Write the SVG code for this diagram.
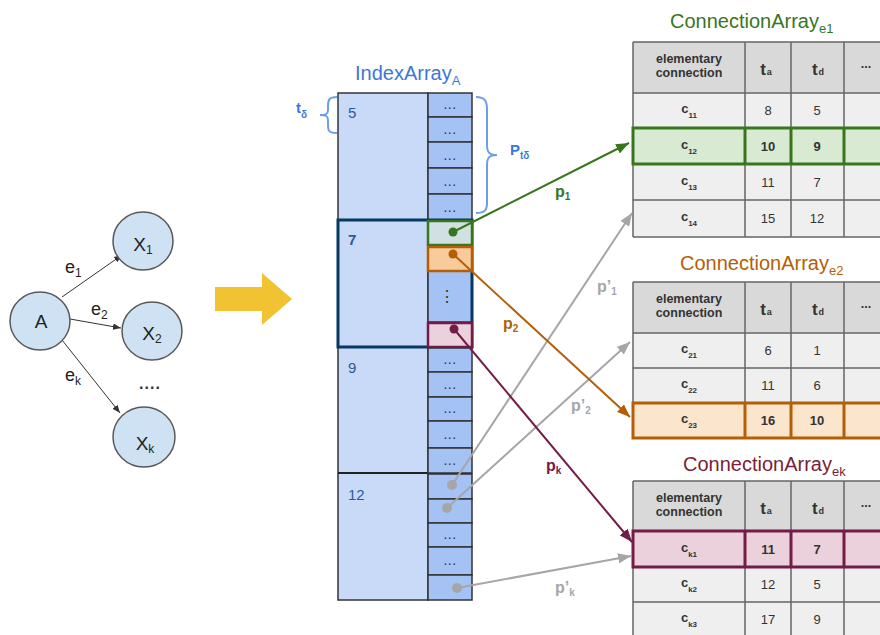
<svg xmlns="http://www.w3.org/2000/svg" width="880" height="635" viewBox="0 0 880 635">
<defs>
<style>
text{font-family:"Liberation Sans",Arial,sans-serif}
.node{fill:#cfe2f3;stroke:#595959;stroke-width:1.5}
.nl{font-size:19px;fill:#222;text-anchor:middle}
.edge{stroke:#333;stroke-width:1;fill:none}
.el{font-size:18px;fill:#222}
.lc{fill:#c9daf8;stroke:#333;stroke-width:1.5}
.cell{fill:#a4c2f4;stroke:#333;stroke-width:1.5}
.dots{font-size:14px;fill:#333;text-anchor:middle;letter-spacing:0.5px}
.gnum{font-size:15px;fill:#2d5a96}
.hdr{fill:#d9d9d9}
.row{fill:#efefef}
.grid{stroke:#666;stroke-width:1.5;fill:none}
.ht{font-size:12.5px;font-weight:bold;fill:#333;text-anchor:middle}
.tt{font-size:17px;font-weight:bold;fill:#333;text-anchor:middle}
.cl{font-size:13px;font-weight:bold;fill:#333;text-anchor:middle}
.v{font-size:13px;fill:#333;text-anchor:middle}
.ptr{stroke-width:2;fill:none}
.pl{font-size:16px;font-weight:bold}
.title{font-size:20px}
.brace{stroke:#6d9eeb;stroke-width:2;fill:none}
.blbl{font-size:15px;font-weight:bold;fill:#3c78d8}
</style>
<marker id="ab" viewBox="0 0 10 8" refX="10" refY="4" markerWidth="8" markerHeight="6.4" markerUnits="userSpaceOnUse" orient="auto"><path d="M0,0L10,4L0,8z" fill="#333"/></marker>
<marker id="ag" viewBox="0 0 10 8" refX="10" refY="4" markerWidth="13" markerHeight="10.4" markerUnits="userSpaceOnUse" orient="auto"><path d="M0,0L10,4L0,8z" fill="#38761d"/></marker>
<marker id="ao" viewBox="0 0 10 8" refX="10" refY="4" markerWidth="13" markerHeight="10.4" markerUnits="userSpaceOnUse" orient="auto"><path d="M0,0L10,4L0,8z" fill="#b45f06"/></marker>
<marker id="am" viewBox="0 0 10 8" refX="10" refY="4" markerWidth="13" markerHeight="10.4" markerUnits="userSpaceOnUse" orient="auto"><path d="M0,0L10,4L0,8z" fill="#741b47"/></marker>
<marker id="ay" viewBox="0 0 10 8" refX="10" refY="4" markerWidth="13" markerHeight="10.4" markerUnits="userSpaceOnUse" orient="auto"><path d="M0,0L10,4L0,8z" fill="#a6a6a6"/></marker>
</defs>
<rect width="880" height="635" fill="#ffffff"/>

<!-- left graph -->
<g id="graph-edges">
<line class="edge" x1="62" y1="297" x2="122" y2="255" marker-end="url(#ab)"/>
<line class="edge" x1="70" y1="319" x2="121" y2="328" marker-end="url(#ab)"/>
<line class="edge" x1="62" y1="340" x2="120" y2="413" marker-end="url(#ab)"/>
<text class="el" x="65" y="273">e<tspan font-size="12" dy="4">1</tspan></text>
<text class="el" x="91" y="315">e<tspan font-size="12" dy="4">2</tspan></text>
<text class="el" x="65" y="381">e<tspan font-size="12" dy="4">k</tspan></text>
<text x="150" y="389" font-size="16" font-weight="bold" fill="#333" text-anchor="middle" letter-spacing="1">....</text>
</g>
<g id="node-A"><ellipse class="node" cx="40" cy="321" rx="30" ry="29"/><text class="nl" x="41" y="328">A</text></g>
<g id="node-X1"><ellipse class="node" cx="143" cy="241" rx="30" ry="29"/><text class="nl" x="143" y="251">X<tspan font-size="12" dy="3">1</tspan></text></g>
<g id="node-X2"><ellipse class="node" cx="152" cy="331" rx="30" ry="29"/><text class="nl" x="152" y="340">X<tspan font-size="12" dy="3">2</tspan></text></g>
<g id="node-Xk"><ellipse class="node" cx="144" cy="437" rx="31" ry="30"/><text class="nl" x="145" y="450">X<tspan font-size="12" dy="3">k</tspan></text></g>

<!-- yellow arrow -->
<g id="big-arrow"><polygon points="215,287 262,287 262,273 292,299 262,325 262,311 215,311" fill="#f1c232"/></g>

<!-- index array -->
<g id="index-array">
<text class="title" x="355" y="80" fill="#3c78d8">IndexArray<tspan font-size="13" dy="5">A</tspan></text>
<rect class="lc" x="338" y="93" width="90" height="507"/>
<line x1="338" y1="473" x2="472" y2="473" stroke="#222" stroke-width="2"/>
<rect class="cell" x="428" y="93" width="44" height="24"/>
<rect class="cell" x="428" y="117" width="44" height="25"/>
<rect class="cell" x="428" y="142" width="44" height="26"/>
<rect class="cell" x="428" y="168" width="44" height="26"/>
<rect class="cell" x="428" y="194" width="44" height="26"/>
<text class="dots" x="450" y="109">...</text>
<text class="dots" x="450" y="134">...</text>
<text class="dots" x="450" y="160">...</text>
<text class="dots" x="450" y="186">...</text>
<text class="dots" x="450" y="212">...</text>
<rect class="cell" x="428" y="271" width="44" height="51"/>
<text x="447" y="302" font-size="16" font-family="DejaVu Sans, sans-serif" fill="#333" text-anchor="middle">⋮</text>
<rect x="338" y="220" width="134" height="127" fill="none" stroke="#073763" stroke-width="3"/>
<rect x="428" y="221" width="44" height="24" fill="#d0e0e3" stroke="#38761d" stroke-width="2.5"/>
<rect x="428" y="247" width="44" height="24" fill="#f9cb9c" stroke="#b45f06" stroke-width="2.5"/>
<rect x="428" y="323" width="44" height="24" fill="#ead1dc" stroke="#741b47" stroke-width="2.5"/>
<rect class="cell" x="428" y="348" width="44" height="24"/>
<rect class="cell" x="428" y="372" width="44" height="25"/>
<rect class="cell" x="428" y="397" width="44" height="24"/>
<rect class="cell" x="428" y="421" width="44" height="27"/>
<rect class="cell" x="428" y="448" width="44" height="25"/>
<text class="dots" x="450" y="364">...</text>
<text class="dots" x="450" y="389">...</text>
<text class="dots" x="450" y="413">...</text>
<text class="dots" x="450" y="439">...</text>
<text class="dots" x="450" y="465">...</text>
<rect class="cell" x="428" y="474" width="44" height="25"/>
<rect class="cell" x="428" y="499" width="44" height="24"/>
<rect class="cell" x="428" y="523" width="44" height="24"/>
<rect class="cell" x="428" y="547" width="44" height="28"/>
<rect class="cell" x="428" y="575" width="44" height="25"/>
<text class="dots" x="450" y="539">...</text>
<text class="dots" x="450" y="565">...</text>
<text class="gnum" x="348" y="118">5</text>
<text class="gnum" x="348" y="245" font-weight="bold" fill="#1c4587">7</text>
<text class="gnum" x="348" y="373">9</text>
<text class="gnum" x="348" y="500">12</text>
</g>

<!-- braces -->
<g id="brace-tdelta">
<path class="brace" d="M337,97 C329,97 328,100 328,106 L328,110 C328,114 326,115 320,115 C326,115 328,116 328,120 L328,126 C328,131 329,133 337,133"/>
<text class="blbl" x="296" y="113">t<tspan font-size="10" dy="5">δ</tspan></text>
</g>
<g id="brace-ptdelta">
<path class="brace" d="M476,97 C485,97 487,101 487,110 L487,145 C487,152 489,155 497,155 C489,155 487,158 487,165 L487,203 C487,210 485,213 476,213"/>
<text class="blbl" x="510" y="155">P<tspan font-size="10" dy="4">tδ</tspan></text>
</g>

<!-- table e1 -->
<g id="conn-array-e1">
<text class="title" x="670" y="28" fill="#38761d">ConnectionArray<tspan font-size="13" dy="5">e1</tspan></text>
<rect class="hdr" x="633" y="42" width="260" height="51"/>
<rect class="row" x="633" y="93" width="260" height="144"/>
<path class="grid" d="M633,42H890M633,93H890M633,128H890M633,164H890M633,200H890M633,237H890M633,42V237M745,42V237M791,42V237M844,42V237"/>
<rect x="633" y="128" width="260" height="36" fill="#d9ead3" stroke="#38761d" stroke-width="3"/>
<path d="M745,128V164M791,128V164M844,128V164" stroke="#38761d" stroke-width="3"/>
<text class="ht" x="689" y="63">elementary</text>
<text class="ht" x="689" y="77">connection</text>
<text class="tt" x="766" y="75">t<tspan font-size="9" dx="1" dy="0">a</tspan></text>
<text class="tt" x="818" y="75">t<tspan font-size="9" dx="1" dy="0">d</tspan></text>
<text class="ht" x="866" y="68">...</text>
<text class="cl" x="689" y="113">c<tspan font-size="8" dy="5">11</tspan></text>
<text class="v" x="768" y="115">8</text><text class="v" x="817" y="115">5</text>
<text class="cl" x="689" y="149" fill="#38761d">c<tspan font-size="8" dy="5">12</tspan></text>
<text class="v" x="768" y="151" font-weight="bold" fill="#38761d">10</text><text class="v" x="817" y="151" font-weight="bold" fill="#38761d">9</text>
<text class="cl" x="689" y="185">c<tspan font-size="8" dy="5">13</tspan></text>
<text class="v" x="768" y="187">11</text><text class="v" x="817" y="187">7</text>
<text class="cl" x="689" y="221">c<tspan font-size="8" dy="5">14</tspan></text>
<text class="v" x="768" y="223">15</text><text class="v" x="817" y="223">12</text>
</g>

<!-- table e2 -->
<g id="conn-array-e2">
<text class="title" x="680" y="270" fill="#b45f06">ConnectionArray<tspan font-size="13" dy="5">e2</tspan></text>
<rect class="hdr" x="633" y="282" width="260" height="51"/>
<rect class="row" x="633" y="333" width="260" height="105"/>
<path class="grid" d="M633,282H890M633,333H890M633,368H890M633,403H890M633,438H890M633,282V438M745,282V438M791,282V438M844,282V438"/>
<rect x="633" y="403" width="260" height="35" fill="#fce5cd" stroke="#b45f06" stroke-width="3"/>
<path d="M745,403V438M791,403V438M844,403V438" stroke="#b45f06" stroke-width="3"/>
<text class="ht" x="689" y="303">elementary</text>
<text class="ht" x="689" y="317">connection</text>
<text class="tt" x="766" y="315">t<tspan font-size="9" dx="1" dy="0">a</tspan></text>
<text class="tt" x="818" y="315">t<tspan font-size="9" dx="1" dy="0">d</tspan></text>
<text class="ht" x="866" y="308">...</text>
<text class="cl" x="689" y="353">c<tspan font-size="8" dy="5">21</tspan></text>
<text class="v" x="768" y="355">6</text><text class="v" x="817" y="355">1</text>
<text class="cl" x="689" y="388" font-weight="normal" fill="#555">c<tspan font-size="8" dy="5">22</tspan></text>
<text class="v" x="768" y="390">11</text><text class="v" x="817" y="390">6</text>
<text class="cl" x="689" y="423" fill="#b45f06">c<tspan font-size="8" dy="5">23</tspan></text>
<text class="v" x="768" y="425" font-weight="bold" fill="#b45f06">16</text><text class="v" x="817" y="425" font-weight="bold" fill="#b45f06">10</text>
</g>

<!-- table ek -->
<g id="conn-array-ek">
<text class="title" x="683" y="471" fill="#7b1e35">ConnectionArray<tspan font-size="13" dy="5">ek</tspan></text>
<rect class="hdr" x="633" y="481" width="260" height="50"/>
<rect class="row" x="633" y="531" width="260" height="106"/>
<path class="grid" d="M633,481H890M633,531H890M633,567H890M633,602H890M633,637H890M633,481V637M745,481V637M791,481V637M844,481V637"/>
<rect x="633" y="531" width="260" height="36" fill="#ead1dc" stroke="#741b47" stroke-width="3"/>
<path d="M745,531V567M791,531V567M844,531V567" stroke="#741b47" stroke-width="3"/>
<text class="ht" x="689" y="502">elementary</text>
<text class="ht" x="689" y="516">connection</text>
<text class="tt" x="766" y="514">t<tspan font-size="9" dx="1" dy="0">a</tspan></text>
<text class="tt" x="818" y="514">t<tspan font-size="9" dx="1" dy="0">d</tspan></text>
<text class="ht" x="866" y="507">...</text>
<text class="cl" x="689" y="552" fill="#741b47">c<tspan font-size="8" dy="5">k1</tspan></text>
<text class="v" x="768" y="554" font-weight="bold" fill="#741b47">11</text><text class="v" x="817" y="554" font-weight="bold" fill="#741b47">7</text>
<text class="cl" x="689" y="587">c<tspan font-size="8" dy="5">k2</tspan></text>
<text class="v" x="768" y="589">12</text><text class="v" x="817" y="589">5</text>
<text class="cl" x="689" y="622">c<tspan font-size="8" dy="5">k3</tspan></text>
<text class="v" x="768" y="624">17</text><text class="v" x="817" y="624">9</text>
</g>

<!-- pointers -->
<g id="connectors">
<line class="ptr" x1="452" y1="485" x2="632" y2="213" stroke="#a6a6a6" marker-end="url(#ay)"/>
<line class="ptr" x1="447" y1="508" x2="630" y2="342" stroke="#a6a6a6" marker-end="url(#ay)"/>
<line class="ptr" x1="457" y1="588" x2="631" y2="556" stroke="#a6a6a6" marker-end="url(#ay)"/>
<circle cx="452" cy="485" r="5" fill="#a6a6a6"/>
<circle cx="447" cy="508" r="5" fill="#a6a6a6"/>
<circle cx="457" cy="588" r="5" fill="#a6a6a6"/>
<line class="ptr" x1="453" y1="232" x2="629" y2="143" stroke="#38761d" marker-end="url(#ag)"/>
<circle cx="453" cy="232" r="4.5" fill="#38761d"/>
<line class="ptr" x1="453" y1="254" x2="630" y2="417" stroke="#b45f06" marker-end="url(#ao)"/>
<circle cx="453" cy="254" r="4.5" fill="#b45f06"/>
<line class="ptr" x1="454" y1="329" x2="632" y2="542" stroke="#741b47" marker-end="url(#am)"/>
<circle cx="454" cy="329" r="4.5" fill="#741b47"/>
<text class="pl" x="555" y="197" fill="#38761d">p<tspan font-size="10" dy="3">1</tspan></text>
<text class="pl" x="503" y="329" fill="#b45f06">p<tspan font-size="10" dy="3">2</tspan></text>
<text class="pl" x="546" y="471" fill="#741b47">p<tspan font-size="10" dy="3">k</tspan></text>
<text class="pl" x="597" y="292" fill="#a6a6a6">p’<tspan font-size="10" dy="3">1</tspan></text>
<text class="pl" x="571" y="411" fill="#a6a6a6">p’<tspan font-size="10" dy="3">2</tspan></text>
<text class="pl" x="555" y="593" fill="#a6a6a6">p’<tspan font-size="10" dy="3">k</tspan></text>
</g>
</svg>
